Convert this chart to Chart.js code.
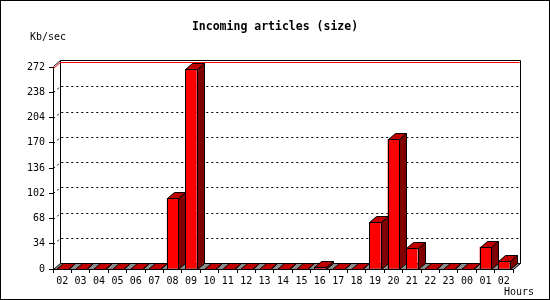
<!DOCTYPE html>
<html>
<head>
<meta charset="utf-8">
<script src="https://cdn.jsdelivr.net/npm/chart.js@4/dist/chart.umd.min.js"></script>
<style>
  body { margin: 0; background: #fff; }
  canvas { display: block; }
</style>
</head>
<body>
<canvas id="chart" width="550" height="300"></canvas>
<script>
// Hours of the day (x categories)
const hours = ['02', '03', '04', '05', '06', '07', '08', '09', '10', '11', '12', '13',
  '14', '15', '16', '17', '18', '19', '20', '21', '22', '23', '00', '01', '02'];

// Incoming size, Kb/sec
const kbPerSec = [0, 0, 0, 0, 0, 0, 95, 269, 0, 0, 0, 0,
  0, 0, 3, 0, 0, 63, 175, 28, 0, 0, 0, 30, 11];

const yMax = 272;
const yStep = 34;

const DX = 7;   // depth offset, x
const DY = 6;   // depth offset, y
const monoFont = '"DejaVu Sans Mono", monospace';

// back wall, floor, dashed grid and max line
const backdrop = {
  id: 'backdrop',
  beforeDraw(chart) {
    const ctx = chart.ctx;
    ctx.save();
    ctx.fillStyle = '#fff';
    ctx.fillRect(0, 0, chart.width, chart.height);
    ctx.restore();
  },
  beforeDatasetsDraw(chart) {
    const ctx = chart.ctx;
    const { left, right, top, bottom } = chart.chartArea;
    const yScale = chart.scales.y;
    const L = Math.round(left) + 0.5, R = Math.round(right) + 0.5;
    const B = Math.round(bottom) + 0.5;
    ctx.save();
    ctx.lineWidth = 1;

    // dashed grid on back wall + left wall
    ctx.strokeStyle = '#000';
    ctx.setLineDash([2, 3]);
    for (let v = yStep; v < yMax; v += yStep) {
      const y = Math.round(yScale.getPixelForValue(v)) + 0.5;
      ctx.beginPath();
      ctx.moveTo(L, y);
      ctx.lineTo(L + DX, y - DY);
      ctx.lineTo(R + DX, y - DY);
      ctx.stroke();
    }
    ctx.setLineDash([]);

    // back wall outline
    const T = Math.round(yScale.getPixelForValue(yMax)) + 0.5;
    ctx.beginPath();
    ctx.moveTo(L, T - 1);
    ctx.lineTo(L + DX, T - DY - 1);
    ctx.lineTo(R + DX, T - DY - 1);
    ctx.lineTo(R + DX, B - DY);
    ctx.moveTo(L + DX, T - DY - 1);
    ctx.lineTo(L + DX, B - DY);
    ctx.stroke();

    // max line (red)
    ctx.strokeStyle = '#ff0000';
    ctx.beginPath();
    ctx.moveTo(L, T + 1);
    ctx.lineTo(L + DX, T + 1 - DY);
    ctx.lineTo(R + DX - 1, T + 1 - DY);
    ctx.stroke();

    // floor
    ctx.fillStyle = '#8c8c8c';
    ctx.strokeStyle = '#000';
    ctx.beginPath();
    ctx.moveTo(L, B);
    ctx.lineTo(R, B);
    ctx.lineTo(R + DX, B - DY);
    ctx.lineTo(L + DX, B - DY);
    ctx.closePath();
    ctx.fill();
    ctx.stroke();
    ctx.restore();
  },
  afterDatasetsDraw(chart) {
    const ctx = chart.ctx;
    const meta = chart.getDatasetMeta(0);
    ctx.save();
    ctx.lineWidth = 1;
    ctx.strokeStyle = '#000';
    meta.data.forEach(bar => {
      const p = bar.getProps(['x', 'y', 'base', 'width'], true);
      const x0 = Math.round(p.x - p.width / 2) + 0.5;
      const x1 = Math.round(p.x + p.width / 2) + 0.5;
      const yt = Math.round(p.y) + 0.5;
      const yb = Math.round(p.base) + 0.5;
      // front face outline
      ctx.strokeRect(x0, yt, x1 - x0, yb - yt);
      // side face
      ctx.fillStyle = '#800000';
      ctx.beginPath();
      ctx.moveTo(x1, yt);
      ctx.lineTo(x1 + DX, yt - DY);
      ctx.lineTo(x1 + DX, yb - DY);
      ctx.lineTo(x1, yb);
      ctx.closePath();
      ctx.fill();
      ctx.stroke();
      // top face
      ctx.fillStyle = '#c00000';
      ctx.beginPath();
      ctx.moveTo(x0, yt);
      ctx.lineTo(x1, yt);
      ctx.lineTo(x1 + DX, yt - DY);
      ctx.lineTo(x0 + DX, yt - DY);
      ctx.closePath();
      ctx.fill();
      ctx.stroke();
    });
    ctx.restore();
  },
  afterDraw(chart) {
    const ctx = chart.ctx;
    ctx.save();
    ctx.fillStyle = '#000';
    ctx.textBaseline = 'middle';
    ctx.font = 'bold 11.5px ' + monoFont;
    ctx.textAlign = 'center';
    ctx.fillText('Incoming articles (size)', 275, 27);
    ctx.font = '10px ' + monoFont;
    ctx.textAlign = 'left';
    ctx.fillText('Kb/sec', 30, 37);
    ctx.fillText('Hours', 504, 292);
    ctx.strokeStyle = '#000';
    ctx.lineWidth = 1;
    ctx.strokeRect(0.5, 0.5, chart.width - 1, chart.height - 1);
    ctx.restore();
  }
};

new Chart(document.getElementById('chart'), {
  type: 'bar',
  data: {
    labels: hours,
    datasets: [{
      data: kbPerSec,
      backgroundColor: '#ff0000',
      borderWidth: 0,
      barPercentage: 0.62,
      categoryPercentage: 1.0,
    }]
  },
  options: {
    responsive: false,
    animation: false,
    devicePixelRatio: 1,
    layout: {
      padding: { top: 67, right: 37, left: 0, bottom: 0 }
    },
    plugins: {
      legend: { display: false },
      tooltip: { enabled: false },
      title: { display: false }
    },
    scales: {
      x: {
        afterFit: scale => { scale.height = 31; },
        grid: {
          offset: true,
          drawOnChartArea: false,
          drawTicks: true,
          tickLength: 4,
          tickColor: '#000'
        },
        border: { display: true, color: '#000', width: 1 },
        ticks: {
          color: '#000',
          padding: 2,
          maxRotation: 0,
          autoSkip: false,
          font: { family: monoFont, size: 10 }
        }
      },
      y: {
        min: 0,
        max: yMax,
        afterFit: scale => { scale.width = 53; },
        grid: {
          drawOnChartArea: false,
          drawTicks: true,
          tickLength: 4,
          tickColor: '#000'
        },
        border: { display: true, color: '#000', width: 1 },
        ticks: {
          stepSize: yStep,
          color: '#000',
          padding: 4,
          font: { family: monoFont, size: 10 }
        }
      }
    }
  },
  plugins: [backdrop]
});
</script>
</body>
</html>
